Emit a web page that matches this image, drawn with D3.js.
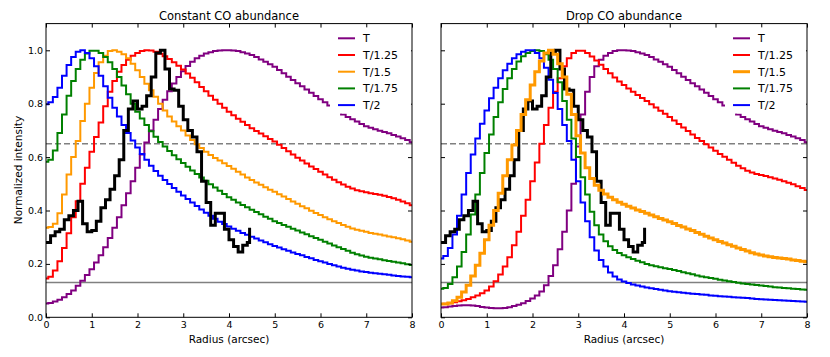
<!DOCTYPE html>
<html>
<head>
<meta charset="utf-8">
<script src="https://cdn.jsdelivr.net/npm/d3@7"></script>
<style>
  body { margin: 0; background: #fff; }
  text { font-family: "DejaVu Sans", sans-serif; }
</style>
</head>
<body>
<div id="chart"></div>
<script>

// radius grid of the model profiles (arcsec)
var radius = [0, 0.1, 0.2, 0.3, 0.4, 0.5, 0.6, 0.7, 0.8, 0.9,
  1, 1.1, 1.2, 1.3, 1.4, 1.5, 1.6, 1.7, 1.8, 1.9,
  2, 2.1, 2.2, 2.3, 2.4, 2.5, 2.6, 2.7, 2.8, 2.9,
  3, 3.1, 3.2, 3.3, 3.4, 3.5, 3.6, 3.7, 3.8, 3.9,
  4, 4.1, 4.2, 4.3, 4.4, 4.5, 4.6, 4.7, 4.8, 4.9,
  5, 5.1, 5.2, 5.3, 5.4, 5.5, 5.6, 5.7, 5.8, 5.9,
  6, 6.1, 6.2, 6.3, 6.4, 6.5, 6.6, 6.7, 6.8, 6.9,
  7, 7.1, 7.2, 7.3, 7.4, 7.5, 7.6, 7.7, 7.8, 7.9, 8];

// labels of the temperature models
var modelLabels = ["T", "T/1.25", "T/1.5", "T/1.75", "T/2"];
var modelColors = ["#800080", "#ff0000", "#ff9900", "#008000", "#0000ff"];

// Constant CO abundance
var constT = [0.052, 0.054, 0.059, 0.066, 0.075, 0.087, 0.100, 0.118, 0.137, 0.158,
  0.180, 0.205, 0.232, 0.262, 0.297, 0.335, 0.375, 0.420, 0.465, 0.510,
  0.560, 0.610, 0.655, 0.700, 0.740, 0.780, 0.815, 0.847, 0.876, 0.900,
  0.922, 0.941, 0.957, 0.970, 0.980, 0.988, 0.993, 0.997, 0.999, 1.000,
  1.000, 0.999, 0.997, 0.993, 0.988, 0.982, 0.975, 0.966, 0.957, 0.948,
  0.938, 0.926, 0.914, 0.901, 0.889, 0.877, 0.865, 0.853, 0.841, 0.829,
  0.817, 0.805, 0.793, 0.781, 0.770, 0.760, 0.750, 0.742, 0.733, 0.724,
  0.716, 0.710, 0.704, 0.699, 0.694, 0.689, 0.683, 0.677, 0.671, 0.664, 0.656];
var constT125 = [0.145, 0.152, 0.175, 0.210, 0.260, 0.315, 0.375, 0.435, 0.500, 0.560,
  0.620, 0.675, 0.730, 0.790, 0.845, 0.885, 0.920, 0.945, 0.965, 0.980,
  0.990, 0.997, 1.000, 0.999, 0.995, 0.987, 0.978, 0.967, 0.955, 0.942,
  0.928, 0.913, 0.897, 0.880, 0.863, 0.847, 0.830, 0.815, 0.800, 0.785,
  0.770, 0.757, 0.744, 0.732, 0.720, 0.708, 0.698, 0.688, 0.678, 0.668,
  0.658, 0.646, 0.634, 0.622, 0.610, 0.598, 0.587, 0.576, 0.565, 0.555,
  0.545, 0.535, 0.525, 0.515, 0.506, 0.497, 0.489, 0.482, 0.476, 0.472,
  0.468, 0.465, 0.462, 0.459, 0.455, 0.451, 0.446, 0.440, 0.434, 0.427, 0.420];
var constT15 = [0.335, 0.338, 0.350, 0.390, 0.460, 0.535, 0.600, 0.660, 0.735, 0.800,
  0.860, 0.915, 0.955, 0.980, 0.997, 1.000, 0.995, 0.985, 0.970, 0.950,
  0.925, 0.900, 0.875, 0.850, 0.826, 0.800, 0.775, 0.752, 0.733, 0.716,
  0.700, 0.681, 0.664, 0.648, 0.634, 0.620, 0.608, 0.597, 0.587, 0.577,
  0.567, 0.556, 0.545, 0.535, 0.524, 0.514, 0.505, 0.496, 0.487, 0.478,
  0.470, 0.461, 0.452, 0.443, 0.434, 0.425, 0.416, 0.408, 0.399, 0.391,
  0.383, 0.375, 0.367, 0.360, 0.353, 0.346, 0.339, 0.333, 0.328, 0.324,
  0.320, 0.316, 0.313, 0.310, 0.306, 0.303, 0.300, 0.296, 0.292, 0.288, 0.283];
var constT175 = [0.583, 0.590, 0.625, 0.690, 0.760, 0.830, 0.885, 0.930, 0.965, 0.988,
  0.998, 0.998, 0.990, 0.975, 0.955, 0.930, 0.900, 0.868, 0.835, 0.800,
  0.770, 0.745, 0.720, 0.697, 0.676, 0.657, 0.640, 0.623, 0.607, 0.592,
  0.578, 0.564, 0.550, 0.537, 0.524, 0.511, 0.498, 0.486, 0.474, 0.462,
  0.450, 0.440, 0.430, 0.421, 0.412, 0.403, 0.394, 0.386, 0.377, 0.369,
  0.360, 0.353, 0.346, 0.339, 0.332, 0.325, 0.318, 0.311, 0.304, 0.297,
  0.290, 0.283, 0.276, 0.269, 0.262, 0.256, 0.249, 0.242, 0.236, 0.231,
  0.227, 0.223, 0.220, 0.217, 0.214, 0.211, 0.208, 0.205, 0.202, 0.199, 0.196];
var constT2 = [0.798, 0.805, 0.825, 0.860, 0.905, 0.945, 0.975, 0.995, 1.000, 0.990,
  0.970, 0.940, 0.905, 0.865, 0.822, 0.785, 0.752, 0.720, 0.690, 0.662,
  0.636, 0.612, 0.590, 0.568, 0.548, 0.530, 0.514, 0.499, 0.484, 0.470,
  0.456, 0.443, 0.430, 0.417, 0.404, 0.392, 0.380, 0.369, 0.358, 0.349,
  0.340, 0.332, 0.324, 0.316, 0.309, 0.302, 0.295, 0.288, 0.281, 0.274,
  0.267, 0.261, 0.255, 0.249, 0.243, 0.237, 0.232, 0.226, 0.221, 0.215,
  0.210, 0.205, 0.200, 0.195, 0.190, 0.186, 0.182, 0.178, 0.175, 0.172,
  0.170, 0.167, 0.165, 0.163, 0.161, 0.159, 0.157, 0.155, 0.153, 0.152, 0.150];

// Drop CO abundance
var dropT = [0.037, 0.038, 0.040, 0.042, 0.044, 0.045, 0.045, 0.044, 0.042, 0.039,
  0.037, 0.035, 0.034, 0.034, 0.035, 0.038, 0.042, 0.047, 0.053, 0.061,
  0.070, 0.082, 0.097, 0.120, 0.155, 0.195, 0.255, 0.320, 0.400, 0.500,
  0.640, 0.760, 0.845, 0.900, 0.940, 0.965, 0.980, 0.990, 0.997, 1.000,
  1.000, 0.999, 0.997, 0.993, 0.988, 0.982, 0.975, 0.966, 0.957, 0.948,
  0.938, 0.926, 0.914, 0.901, 0.889, 0.877, 0.865, 0.853, 0.841, 0.829,
  0.817, 0.805, 0.793, 0.781, 0.770, 0.760, 0.750, 0.742, 0.733, 0.724,
  0.716, 0.710, 0.704, 0.699, 0.694, 0.689, 0.683, 0.677, 0.671, 0.664, 0.656];
var dropT125 = [0.050, 0.051, 0.053, 0.056, 0.060, 0.064, 0.069, 0.075, 0.082, 0.090,
  0.100, 0.115, 0.135, 0.160, 0.190, 0.225, 0.270, 0.320, 0.380, 0.440,
  0.510, 0.580, 0.650, 0.720, 0.785, 0.845, 0.895, 0.940, 0.970, 0.990,
  0.998, 0.998, 0.990, 0.977, 0.962, 0.946, 0.930, 0.914, 0.898, 0.883,
  0.870, 0.857, 0.845, 0.833, 0.821, 0.810, 0.798, 0.786, 0.774, 0.762,
  0.750, 0.737, 0.724, 0.711, 0.698, 0.685, 0.672, 0.660, 0.648, 0.636,
  0.624, 0.612, 0.601, 0.590, 0.579, 0.568, 0.558, 0.549, 0.542, 0.537,
  0.533, 0.529, 0.525, 0.520, 0.515, 0.510, 0.504, 0.498, 0.491, 0.484, 0.477];
var dropT15 = [0.050, 0.050, 0.054, 0.062, 0.075, 0.095, 0.120, 0.155, 0.195, 0.240,
  0.290, 0.345, 0.400, 0.465, 0.530, 0.590, 0.645, 0.700, 0.760, 0.815,
  0.870, 0.920, 0.960, 0.990, 1.000, 0.985, 0.950, 0.900, 0.835, 0.760,
  0.680, 0.615, 0.560, 0.520, 0.495, 0.476, 0.462, 0.450, 0.440, 0.431,
  0.423, 0.416, 0.409, 0.402, 0.396, 0.390, 0.383, 0.377, 0.370, 0.364,
  0.358, 0.351, 0.344, 0.338, 0.331, 0.325, 0.318, 0.311, 0.304, 0.297,
  0.290, 0.284, 0.278, 0.272, 0.266, 0.260, 0.254, 0.248, 0.242, 0.237,
  0.233, 0.230, 0.227, 0.224, 0.222, 0.220, 0.218, 0.215, 0.213, 0.210, 0.208];
var dropT175 = [0.107, 0.110, 0.125, 0.150, 0.190, 0.245, 0.310, 0.385, 0.460, 0.540,
  0.615, 0.685, 0.750, 0.805, 0.855, 0.895, 0.930, 0.958, 0.978, 0.990,
  0.997, 1.000, 0.997, 0.985, 0.965, 0.930, 0.880, 0.810, 0.740, 0.670,
  0.600, 0.525, 0.460, 0.395, 0.345, 0.310, 0.285, 0.266, 0.252, 0.241,
  0.232, 0.225, 0.218, 0.212, 0.206, 0.200, 0.195, 0.191, 0.187, 0.184,
  0.181, 0.177, 0.173, 0.169, 0.165, 0.161, 0.157, 0.153, 0.150, 0.147,
  0.144, 0.141, 0.138, 0.135, 0.132, 0.129, 0.127, 0.125, 0.123, 0.121,
  0.119, 0.117, 0.115, 0.113, 0.112, 0.110, 0.109, 0.107, 0.106, 0.104, 0.103];
var dropT2 = [0.220, 0.230, 0.260, 0.310, 0.380, 0.460, 0.540, 0.610, 0.670, 0.725,
  0.775, 0.820, 0.860, 0.895, 0.925, 0.950, 0.970, 0.985, 0.995, 1.000,
  1.000, 0.990, 0.970, 0.935, 0.890, 0.840, 0.780, 0.720, 0.660, 0.590,
  0.510, 0.430, 0.360, 0.300, 0.250, 0.215, 0.190, 0.168, 0.153, 0.142,
  0.134, 0.128, 0.123, 0.119, 0.115, 0.112, 0.109, 0.106, 0.103, 0.100,
  0.098, 0.096, 0.094, 0.092, 0.090, 0.088, 0.087, 0.085, 0.084, 0.082,
  0.081, 0.079, 0.078, 0.077, 0.075, 0.074, 0.073, 0.072, 0.070, 0.069,
  0.068, 0.067, 0.066, 0.065, 0.064, 0.063, 0.062, 0.061, 0.060, 0.059, 0.058];

// observed profile (same in both panels)
var obsRadius = [0, 0.1, 0.2, 0.3, 0.4, 0.5, 0.6, 0.7, 0.8, 0.9,
  1, 1.1, 1.2, 1.3, 1.4, 1.5, 1.6, 1.7, 1.8, 1.9,
  2, 2.1, 2.2, 2.3, 2.4, 2.5, 2.6, 2.7, 2.8, 2.9,
  3, 3.1, 3.2, 3.3, 3.4, 3.5, 3.6, 3.7, 3.8, 3.9,
  4, 4.1, 4.2, 4.3, 4.4, 4.45];
var obsIntensity = [0.280, 0.305, 0.320, 0.330, 0.365, 0.380, 0.400, 0.435, 0.350, 0.320,
  0.325, 0.360, 0.410, 0.440, 0.480, 0.530, 0.590, 0.700, 0.780, 0.810,
  0.780, 0.790, 0.830, 0.900, 0.990, 1.000, 0.930, 0.855, 0.850, 0.790,
  0.740, 0.700, 0.675, 0.620, 0.510, 0.430, 0.345, 0.390, 0.390, 0.330,
  0.290, 0.265, 0.245, 0.270, 0.280, 0.335];

// reference levels
var dashedLevel = 0.65;
var solidLevel = 0.13;

var xTicks = [0, 1, 2, 3, 4, 5, 6, 7, 8];
var yTicks = [0, 0.2, 0.4, 0.6, 0.8, 1.0];

// space for the chart
var svgWidth = 830;
var svgHeight = 357;
var panelTop = 23.6;
var panelHeight = 317.3 - 23.6;
var panelWidth = 366;

var svg = d3.select("#chart")
  .append("svg")
  .attr("width", svgWidth)
  .attr("height", svgHeight);

function drawPanel(left, title, models, emphasis, showYLabels, idx) {
  var xScale = d3.scaleLinear().domain([0, 8]).range([0, panelWidth]);
  var yScale = d3.scaleLinear().domain([0, 1.1]).range([panelHeight, 0]);

  var g = svg.append("g")
    .attr("transform", `translate(${left}, ${panelTop})`);

  g.append("clipPath")
    .attr("id", "clip" + idx)
    .append("rect")
    .attr("width", panelWidth)
    .attr("height", panelHeight);

  var plot = g.append("g").attr("clip-path", `url(#clip${idx})`);

  // horizontal reference lines
  plot.append("line")
    .attr("x1", xScale(0)).attr("x2", xScale(8))
    .attr("y1", yScale(dashedLevel)).attr("y2", yScale(dashedLevel))
    .attr("stroke", "#808080")
    .attr("stroke-width", 1.5)
    .attr("stroke-dasharray", "6,3");
  plot.append("line")
    .attr("x1", xScale(0)).attr("x2", xScale(8))
    .attr("y1", yScale(solidLevel)).attr("y2", yScale(solidLevel))
    .attr("stroke", "#808080")
    .attr("stroke-width", 1.5);

  var modelLine = d3.line()
    .x((d, i) => xScale(radius[i]))
    .y(d => yScale(d))
    .curve(d3.curveStep);

  var obsLine = d3.line()
    .x((d, i) => xScale(obsRadius[i]))
    .y(d => yScale(d))
    .curve(d3.curveStepAfter);

  // models, then the data, then the emphasised model
  models.forEach(function (values, i) {
    if (i === emphasis) return;
    plot.append("path")
      .attr("d", modelLine(values))
      .attr("fill", "none")
      .attr("stroke", modelColors[i])
      .attr("stroke-width", 2);
  });

  plot.append("path")
    .attr("d", obsLine(obsIntensity))
    .attr("fill", "none")
    .attr("stroke", "black")
    .attr("stroke-width", 3)
    .attr("stroke-linejoin", "miter");

  if (emphasis !== null) {
    plot.append("path")
      .attr("d", modelLine(models[emphasis]))
      .attr("fill", "none")
      .attr("stroke", modelColors[emphasis])
      .attr("stroke-width", 3);
  }

  // axes, ticks pointing inwards on all four sides
  var bottomAxis = d3.axisBottom(xScale).tickValues(xTicks).tickSize(-4).tickPadding(4)
    .tickFormat(d3.format("d"));
  var topAxis = d3.axisTop(xScale).tickValues(xTicks).tickSize(-4).tickFormat("");
  var leftAxis = d3.axisLeft(yScale).tickValues(yTicks).tickSize(-4).tickPadding(3)
    .tickFormat(showYLabels ? d3.format(".1f") : "");
  var rightAxis = d3.axisRight(yScale).tickValues(yTicks).tickSize(-4).tickFormat("");

  g.append("g").attr("transform", `translate(0, ${panelHeight})`).call(bottomAxis);
  g.append("g").call(topAxis);
  g.append("g").call(leftAxis);
  g.append("g").attr("transform", `translate(${panelWidth}, 0)`).call(rightAxis);

  g.selectAll(".domain").remove();
  g.selectAll(".tick text")
    .attr("font-family", "DejaVu Sans, sans-serif")
    .attr("font-size", "9.5px")
    .attr("fill", "black");
  g.selectAll(".tick line").attr("stroke", "black");

  g.append("rect")
    .attr("width", panelWidth)
    .attr("height", panelHeight)
    .attr("fill", "none")
    .attr("stroke", "black")
    .attr("stroke-width", 1);

  // title and x label
  g.append("text")
    .attr("x", panelWidth / 2)
    .attr("y", -4)
    .attr("text-anchor", "middle")
    .attr("font-size", "11.5px")
    .text(title);

  g.append("text")
    .attr("x", panelWidth / 2)
    .attr("y", panelHeight + 26)
    .attr("text-anchor", "middle")
    .attr("font-size", "10.5px")
    .text("Radius (arcsec)");

  // legend
  var legend = g.append("g").attr("transform", `translate(${panelWidth - 82}, 4)`);
  legend.append("rect")
    .attr("width", 81)
    .attr("height", 86)
    .attr("fill", "white");
  modelLabels.forEach(function (label, i) {
    var yRow = 10.7 + i * 16.7;
    legend.append("line")
      .attr("x1", 8).attr("x2", 25)
      .attr("y1", yRow).attr("y2", yRow)
      .attr("stroke", modelColors[i])
      .attr("stroke-width", i === emphasis ? 3 : 2);
    legend.append("text")
      .attr("x", 33)
      .attr("y", yRow + 4)
      .attr("font-size", "11px")
      .text(label);
  });
}

drawPanel(46, "Constant CO abundance", [constT, constT125, constT15, constT175, constT2], null, true, 0);
drawPanel(441, "Drop CO abundance", [dropT, dropT125, dropT15, dropT175, dropT2], 2, false, 1);

// y label
svg.append("text")
  .attr("transform", "translate(22, 170) rotate(-90)")
  .attr("text-anchor", "middle")
  .attr("font-size", "10.5px")
  .text("Normalized intensity");

</script>
</body>
</html>
